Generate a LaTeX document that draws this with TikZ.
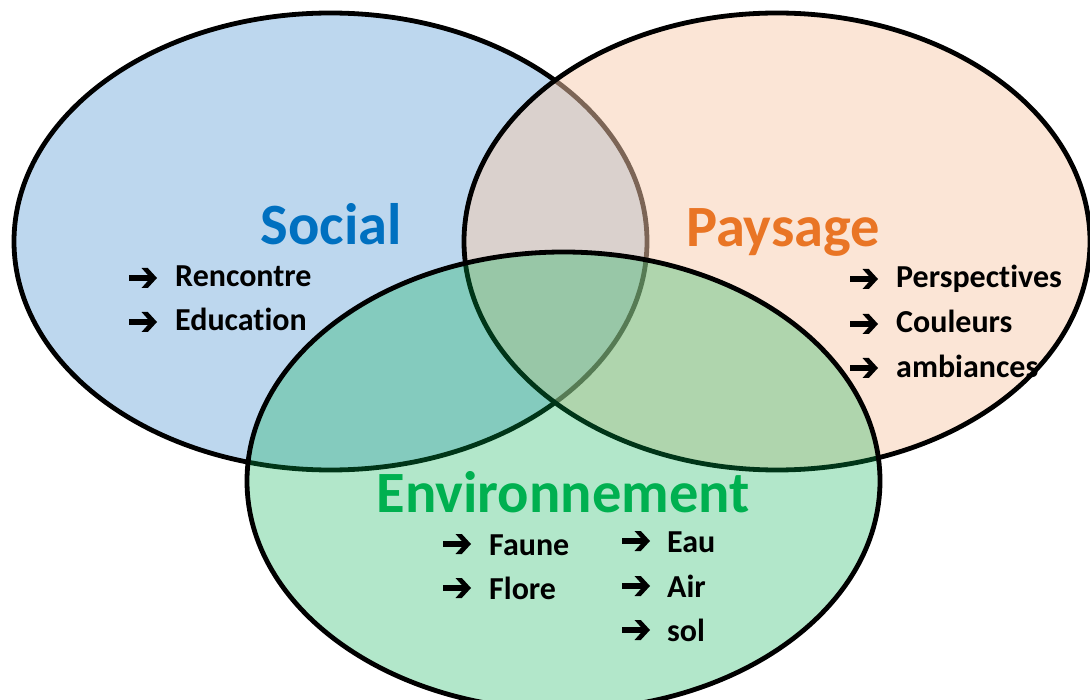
\documentclass[tikz,border=0pt]{standalone}
\usepackage{fontspec}
\setmainfont[Ligatures=NoCommon]{Carlito}
\definecolor{socialblue}{HTML}{5B9BD5}
\definecolor{paypeach}{HTML}{F8CBAD}
\definecolor{envgreen}{HTML}{00B050}
\definecolor{socialtxt}{HTML}{0070C0}
\definecolor{paytxt}{HTML}{E97525}
\definecolor{envtxt}{HTML}{00B050}
\tikzset{
  circ/.style={line width=4.8pt, draw=black},
  title/.style={font=\fontsize{58.5}{60}\selectfont\bfseries, anchor=base, inner sep=0pt},
  item/.style={font=\fontsize{32}{34}\selectfont\bfseries, anchor=base west, inner sep=0pt},
  harrow/.pic={\fill[black] (0,-2.8) -- (19,-2.8) -- (12.5,-10) -- (18.8,-10) -- (28,0) -- (18.8,10) -- (12.5,10) -- (19,2.8) -- (0,2.8) -- cycle;}
}
\begin{document}
\begin{tikzpicture}[x=1pt,y=-1pt]
\useasboundingbox (0,0) rectangle (1090,700);
\begin{scope}
\clip (0,0) rectangle (1090,700);
\path[circ, fill=socialblue, fill opacity=0.4] (330.5,241.5) ellipse [x radius=316.5, y radius=228.5];
\path[circ, fill=paypeach, fill opacity=0.5] (777,241.5) ellipse [x radius=313, y radius=228.5];
\path[circ, fill=envgreen, fill opacity=0.3] (563.5,481) ellipse [x radius=316.5, y radius=229];
\end{scope}
% titles
\node[title, text=socialtxt] (social) at (331,245) {Social};
\node[title, text=paytxt] (paysage) at (783,247) {Paysage};
\node[title, text=envtxt] (env) at (563,512) {Environnement};
% social items
\pic at (129,278) {harrow};
\node[item] (rencontre) at (175,287) {Rencontre};
\pic at (129,322) {harrow};
\node[item] (education) at (175,331) {Education};
% paysage items
\pic at (850,279) {harrow};
\node[item] (persp) at (896,288) {Perspectives};
\pic at (850,324) {harrow};
\node[item] (couleurs) at (896,333) {Couleurs};
\pic at (850,368) {harrow};
\node[item] (ambiances) at (896,378) {ambiances};
% environnement items
\pic at (443,544) {harrow};
\node[item] (faune) at (489,555) {Faune};
\pic at (443,588) {harrow};
\node[item] (flore) at (489,599) {Flore};
\pic at (622,541) {harrow};
\node[item] (eau) at (667,552) {Eau};
\pic at (622,586) {harrow};
\node[item] (air) at (667,597) {Air};
\pic at (622,630) {harrow};
\node[item] (sol) at (667,641) {sol};
\end{tikzpicture}
\end{document}
